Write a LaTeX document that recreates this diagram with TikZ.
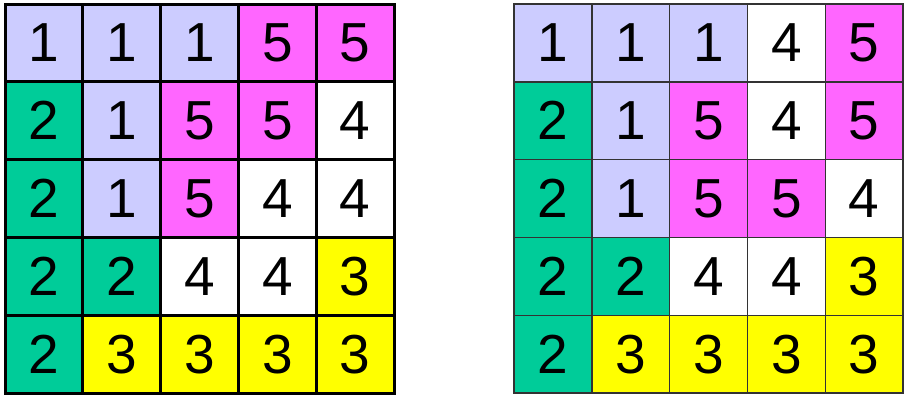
\documentclass[tikz,border=0pt]{standalone}
\usepackage{fontspec}
\setmainfont{Liberation Sans}
\usepackage{tikz}
\definecolor{c1}{HTML}{CCCCFF}
\definecolor{c2}{HTML}{00CC99}
\definecolor{c3}{HTML}{FFFF00}
\definecolor{c4}{HTML}{FFFFFF}
\definecolor{c5}{HTML}{FF66FF}
\tikzset{
  cell/.style={
    rectangle,
    minimum size=77.8pt,
    inner sep=0pt,
    font=\fontsize{55}{55}\selectfont
  },
  left cell/.style={
    cell,
    draw=black,
    line width=3pt
  },
  right cell/.style={
    cell,
    draw=black!80,
    line width=1.4pt
  }
}

\begin{document}
\begin{tikzpicture}[x=1pt, y=-1pt]
  \useasboundingbox (0,0) rectangle (904,394);
  \def\side{77.8}

  % 1. 左边的方格
  \foreach \row [count=\r] in {{1,1,1,5,5},{2,1,5,5,4},{2,1,5,4,4},{2,2,4,4,3},{2,3,3,3,3}}{
    \foreach \v [count=\c] in \row {
      \node[left cell, fill=c\v] (L-\r-\c) at ({5+(\c-0.5)*\side}, {4+(\r-0.5)*\side}) {\v};
    }
  }

  % 2. 右边的方格
  \foreach \row [count=\r] in {{1,1,1,4,5},{2,1,5,4,5},{2,1,5,5,4},{2,2,4,4,3},{2,3,3,3,3}}{
    \foreach \v [count=\c] in \row {
      \node[right cell, fill=c\v] (R-\r-\c) at ({514+(\c-0.5)*\side}, {4+(\r-0.5)*\side}) {\v};
    }
  }
\end{tikzpicture}
\end{document}
